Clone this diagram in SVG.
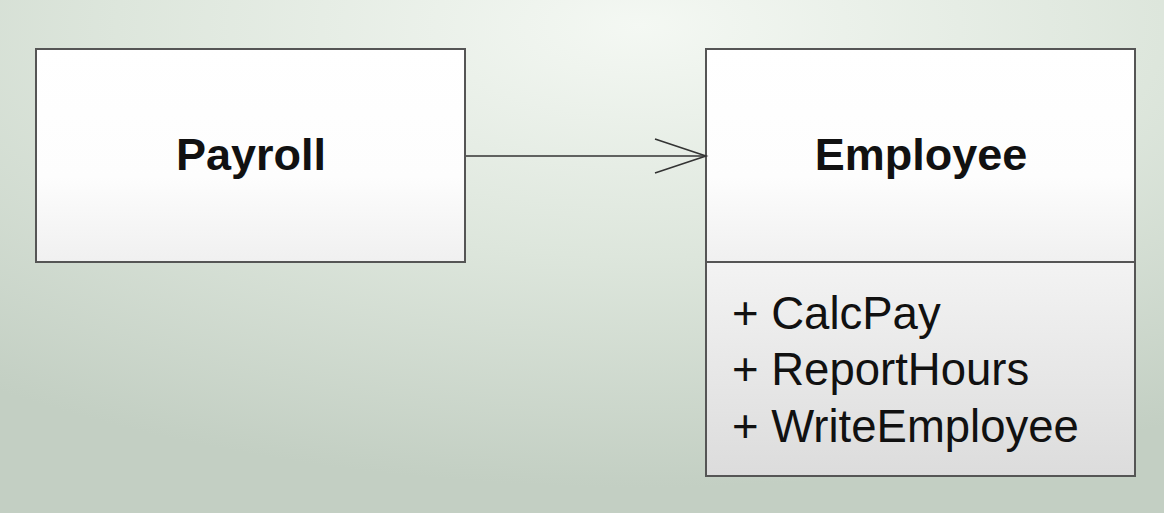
<svg xmlns="http://www.w3.org/2000/svg" width="1164" height="513" viewBox="0 0 1164 513">
<defs>
<radialGradient id="bg" cx="0.55" cy="0.05" r="0.9">
<stop offset="0" stop-color="#f4f8f3"/>
<stop offset="0.5" stop-color="#dde6dc"/>
<stop offset="1" stop-color="#c3cfc3"/>
</radialGradient>
<linearGradient id="boxfill" x1="0" y1="0" x2="0" y2="1">
<stop offset="0" stop-color="#ffffff"/>
<stop offset="0.6" stop-color="#fdfdfd"/>
<stop offset="1" stop-color="#f0f0f0"/>
</linearGradient>
<linearGradient id="memfill" x1="0" y1="0" x2="0" y2="1">
<stop offset="0" stop-color="#f3f3f3"/>
<stop offset="1" stop-color="#dcdcdc"/>
</linearGradient>
<marker id="open" markerWidth="56" markerHeight="40" refX="52" refY="18" orient="auto" markerUnits="userSpaceOnUse">
<path d="M1,1 L52,18 L1,35" fill="none" stroke="#333" stroke-width="1.6"/>
</marker>
<style>
.box{stroke:#555;stroke-width:2}
.title{font-family:"Liberation Sans",Arial,sans-serif;font-weight:bold;font-size:45px;fill:#111;text-anchor:middle}
.mem{font-family:"Liberation Sans",Arial,sans-serif;font-size:45.5px;fill:#111}
.conn{stroke:#333;stroke-width:1.6;fill:none}
</style>
</defs>
<rect width="1164" height="513" fill="url(#bg)"/>
<g id="payroll">
<rect class="box" x="36" y="49" width="429" height="213" fill="url(#boxfill)"/>
<text class="title" x="251" y="170">Payroll</text>
</g>
<g id="employee">
<rect class="box" x="706" y="49" width="429" height="213" fill="url(#boxfill)"/>
<rect class="box" x="706" y="262" width="429" height="214" fill="url(#memfill)"/>
<text class="title" x="921" y="170">Employee</text>
<text class="mem" x="732" y="329">+ CalcPay</text>
<text class="mem" x="732" y="385">+ ReportHours</text>
<text class="mem" x="732" y="442">+ WriteEmployee</text>
</g>
<g id="connectors">
<line class="conn" x1="466" y1="156" x2="706" y2="156" marker-end="url(#open)"/>
</g>
</svg>
